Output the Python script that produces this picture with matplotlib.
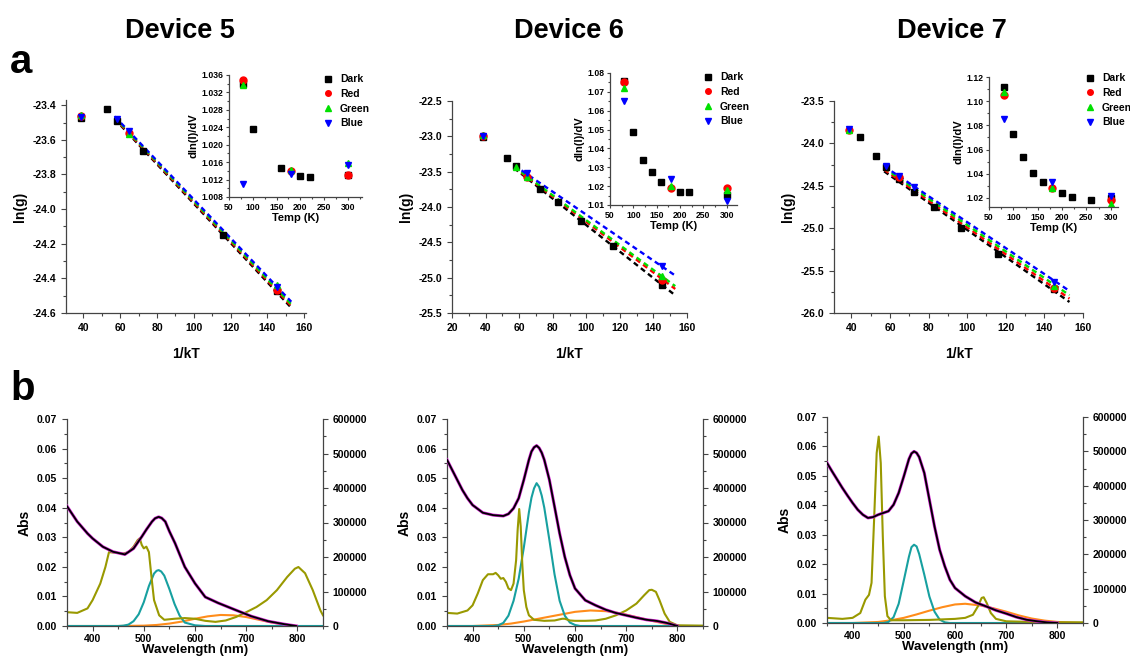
import matplotlib
matplotlib.use('Agg')
import matplotlib.pyplot as plt
from matplotlib.ticker import MultipleLocator, FixedLocator

plt.rcParams['font.family'] = ['Liberation Sans', 'DejaVu Sans']
plt.rcParams['font.weight'] = 'bold'
plt.rcParams['axes.labelweight'] = 'bold'
plt.rcParams['axes.unicode_minus'] = False

W, H = 1130, 658

# ---------------- a: ln(g) vs 1/kT ----------------
titles = ['Device 5', 'Device 6', 'Device 7']

# device 5
d5_pts = {
    'Dark': ([38.7, 52.7, 58.0, 72.5, 116.0, 145.0], [-23.475, -23.42, -23.49, -23.665, -24.15, -24.475]),
    'Red': ([38.7, 64.5, 145.0], [-23.465, -23.56, -24.465]),
    'Green': ([38.7, 64.5, 145.0], [-23.455, -23.565, -24.44]),
    'Blue': ([38.7, 58.0, 64.5, 145.0], [-23.47, -23.48, -23.55, -24.45]),
}
d5_fit = {'Dark': [-23.48, -24.57], 'Red': [-23.475, -24.56], 'Green': [-23.47, -24.55], 'Blue': [-23.465, -24.535]}
# device 6
d6_pts = {
    'Dark': ([38.7, 52.7, 58.0, 72.5, 82.9, 96.7, 116.0, 145.0], [-23.01, -23.31, -23.42, -23.74, -23.93, -24.2, -24.55, -25.1]),
    'Red': ([38.7, 64.5, 145.0], [-23.0, -23.58, -25.03]),
    'Green': ([38.7, 58.0, 64.5, 145.0], [-22.98, -23.44, -23.57, -24.97]),
    'Blue': ([38.7, 64.5, 145.0], [-23.0, -23.52, -24.83]),
}
d6_fit = {'Dark': [-23.45, -25.25], 'Red': [-23.44, -25.16], 'Green': [-23.43, -25.12], 'Blue': [-23.41, -24.97]}
# device 7
d7_pts = {
    'Dark': ([44.6, 52.7, 58.0, 64.5, 72.5, 82.9, 96.7, 116.0, 145.0], [-23.93, -24.15, -24.28, -24.42, -24.57, -24.75, -25.0, -25.3, -25.72]),
    'Red': ([38.7, 64.5, 145.0], [-23.84, -24.4, -25.70]),
    'Green': ([38.7, 145.0], [-23.84, -25.68]),
    'Blue': ([38.7, 58.0, 64.5, 72.5, 145.0], [-23.83, -24.27, -24.38, -24.52, -25.63]),
}
d7_fit = {'Dark': [-24.33, -25.87], 'Red': [-24.31, -25.83], 'Green': [-24.29, -25.79], 'Blue': [-24.27, -25.74]}
fit_x = [57, 153]

# insets: dln(I)/dV vs Temp
i5 = {
    'Dark': ([80, 100, 160, 200, 220, 300], [1.034, 1.0235, 1.0147, 1.0129, 1.0127, 1.013]),
    'Red': ([80, 180, 300], [1.0348, 1.014, 1.0131]),
    'Green': ([80, 180, 300], [1.0338, 1.0143, 1.0158]),
    'Blue': ([80, 180, 300], [1.011, 1.0132, 1.0154]),
}
i6 = {
    'Dark': ([80, 100, 120, 140, 160, 200, 220, 300], [1.076, 1.0485, 1.034, 1.0275, 1.022, 1.017, 1.017, 1.0155]),
    'Red': ([80, 180, 300], [1.075, 1.019, 1.019]),
    'Green': ([80, 180, 300], [1.072, 1.020, 1.018]),
    'Blue': ([80, 180, 300], [1.065, 1.024, 1.012]),
}
i7 = {
    'Dark': ([80, 100, 120, 140, 160, 200, 220, 260, 300], [1.112, 1.073, 1.054, 1.041, 1.033, 1.024, 1.021, 1.018, 1.02]),
    'Red': ([80, 180, 300], [1.105, 1.028, 1.018]),
    'Green': ([80, 180, 300], [1.108, 1.028, 1.015]),
    'Blue': ([80, 180, 300], [1.085, 1.033, 1.022]),
}

series_style = {
    'Dark': dict(marker='s', color='black'),
    'Red': dict(marker='o', color='#ff0000'),
    'Green': dict(marker='^', color='#00e000'),
    'Blue': dict(marker='v', color='#0000ff'),
}

# ---------------- b: spectra ----------------
# black = Abs (left axis), others on right axis (counts)
b5_abs_x = [350, 370, 390, 400, 420, 440, 463, 480, 496, 505, 516, 522, 529, 535, 542, 550, 561, 580, 600, 620, 645, 678, 710, 743, 775, 798]
b5_abs_y = [0.0405, 0.0353, 0.0313, 0.0296, 0.0268, 0.0251, 0.0242, 0.0262, 0.0302, 0.0326, 0.0353, 0.0364, 0.0369, 0.0365, 0.0353, 0.032, 0.028, 0.02, 0.0144, 0.0098, 0.0078, 0.0055, 0.0033, 0.0016, 0.0006, 0.0]
b5_olive_x = [350, 370, 390, 400, 415, 425, 432, 440, 460, 470, 480, 488, 492, 496, 500, 505, 510, 515, 520, 530, 540, 560, 580, 600, 620, 640, 660, 680, 700, 720, 740, 760, 780, 795, 802, 815, 830, 845, 850]
b5_olive_y = [40e3, 38e3, 51e3, 75e3, 123e3, 171e3, 214e3, 213e3, 210e3, 214e3, 230e3, 249e3, 254e3, 235e3, 225e3, 230e3, 214e3, 142e3, 75e3, 31e3, 18e3, 21e3, 23e3, 21e3, 15e3, 12e3, 16e3, 26e3, 40e3, 55e3, 75e3, 104e3, 142e3, 166e3, 171e3, 153e3, 104e3, 45e3, 31e3]
b5_teal_x = [350, 450, 460, 470, 480, 490, 500, 510, 520, 525, 529, 534, 540, 550, 560, 570, 580, 600, 620, 850]
b5_teal_y = [0, 0, 1e3, 4e3, 14e3, 34e3, 69e3, 116e3, 152e3, 160e3, 162e3, 158e3, 146e3, 107e3, 64e3, 30e3, 10e3, 2e3, 0, 0]
b5_orange_x = [350, 450, 500, 525, 550, 575, 600, 625, 650, 675, 700, 725, 750, 775, 800]
b5_orange_y = [0, 0, 1e3, 3e3, 7e3, 13e3, 21e3, 28e3, 32e3, 31e3, 26e3, 18e3, 10e3, 4e3, 0]

b6_abs_x = [350, 360, 370, 380, 390, 400, 420, 440, 460, 470, 480, 490, 500, 510, 515, 520, 525, 530, 535, 540, 550, 560, 570, 580, 590, 600, 620, 640, 660, 680, 700, 720, 740, 760, 780, 800]
b6_abs_y = [0.0562, 0.0528, 0.0494, 0.046, 0.0432, 0.0409, 0.0383, 0.0375, 0.0372, 0.0379, 0.0398, 0.0432, 0.0494, 0.0562, 0.0590, 0.0604, 0.061, 0.0602, 0.0586, 0.0562, 0.0494, 0.0404, 0.0313, 0.0234, 0.0172, 0.0127, 0.0087, 0.007, 0.0055, 0.0044, 0.0036, 0.0028, 0.0021, 0.0017, 0.001, 0.0]
b6_olive_x = [350, 370, 390, 400, 410, 420, 430, 440, 445, 450, 455, 460, 465, 470, 475, 480, 485, 488, 491, 494, 497, 500, 505, 510, 520, 540, 560, 575, 580, 590, 600, 620, 640, 660, 680, 700, 720, 735, 745, 750, 758, 765, 775, 785, 800, 850]
b6_olive_y = [38e3, 36e3, 45e3, 60e3, 94e3, 133e3, 150e3, 150e3, 154e3, 147e3, 137e3, 139e3, 128e3, 109e3, 104e3, 123e3, 191e3, 279e3, 339e3, 288e3, 181e3, 104e3, 55e3, 31e3, 18e3, 15e3, 16e3, 21e3, 21e3, 16e3, 15e3, 15e3, 16e3, 21e3, 31e3, 45e3, 65e3, 89e3, 104e3, 105e3, 99e3, 75e3, 36e3, 12e3, 2e3, 1e3]
b6_teal_x = [350, 440, 450, 460, 470, 480, 490, 500, 510, 515, 520, 525, 530, 535, 540, 550, 560, 570, 580, 590, 600, 610, 850]
b6_teal_y = [0, 0, 2e3, 9e3, 30e3, 73e3, 137e3, 227e3, 330e3, 372e3, 399e3, 414e3, 403e3, 378e3, 343e3, 249e3, 150e3, 73e3, 30e3, 10e3, 3e3, 0, 0]
b6_orange_x = [350, 400, 450, 475, 500, 525, 550, 575, 600, 630, 660, 680, 700, 725, 750, 775, 800]
b6_orange_y = [0, 0, 3e3, 7e3, 13e3, 20e3, 27e3, 34e3, 41e3, 45e3, 43e3, 39e3, 33e3, 24e3, 15e3, 7e3, 2e3]

b7_abs_x = [350, 360, 370, 380, 390, 400, 410, 420, 430, 440, 450, 460, 470, 480, 490, 500, 510, 515, 520, 525, 530, 540, 550, 560, 570, 580, 590, 600, 620, 640, 660, 680, 700, 720, 740, 760, 780, 800]
b7_abs_y = [0.0544, 0.0515, 0.0487, 0.0459, 0.0433, 0.0408, 0.0385, 0.0368, 0.0357, 0.036, 0.0368, 0.0374, 0.038, 0.0402, 0.0442, 0.0498, 0.0557, 0.0576, 0.0583, 0.0578, 0.0564, 0.051, 0.0419, 0.0328, 0.0249, 0.0193, 0.0147, 0.0119, 0.0091, 0.007, 0.0057, 0.0043, 0.0032, 0.002, 0.0011, 0.0006, 0.0002, 0.0]
b7_olive_x = [350, 380, 400, 415, 425, 432, 437, 442, 447, 451, 455, 459, 463, 468, 475, 500, 550, 600, 620, 635, 645, 652, 656, 662, 670, 680, 700, 750, 800, 850]
b7_olive_y = [15e3, 12e3, 15e3, 29e3, 68e3, 82e3, 117e3, 301e3, 495e3, 543e3, 466e3, 252e3, 78e3, 20e3, 8e3, 8e3, 9e3, 12e3, 15e3, 24e3, 49e3, 73e3, 75e3, 58e3, 29e3, 12e3, 5e3, 3e3, 2e3, 2e3]
b7_teal_x = [350, 460, 470, 480, 490, 500, 510, 515, 520, 525, 530, 540, 550, 560, 570, 580, 590, 850]
b7_teal_y = [0, 0, 3e3, 17e3, 56e3, 124e3, 193e3, 221e3, 228e3, 223e3, 201e3, 141e3, 77e3, 33e3, 10e3, 2e3, 0, 0]
b7_orange_x = [350, 400, 450, 475, 500, 525, 550, 575, 600, 620, 650, 675, 700, 725, 750, 775, 800, 850]
b7_orange_y = [0, 0, 3e3, 8e3, 15e3, 25e3, 36e3, 46e3, 54e3, 56e3, 51e3, 43e3, 33e3, 22e3, 13e3, 7e3, 3e3, 0]

OLIVE = '#999900'
TEAL = '#17a0a0'
ORANGE = '#ff8c1a'
SPINE = '#444444'


def fig_rect(left, top, right, bottom):
    return [left / W, 1 - bottom / H, (right - left) / W, (bottom - top) / H]


def style_axes(ax, size, right=False):
    for s in ['top'] + ([] if right else ['right']):
        ax.spines[s].set_visible(False)
    for s in ax.spines.values():
        s.set_color(SPINE)
        s.set_linewidth(0.9)
    ax.tick_params(which='both', direction='out', color=SPINE, labelsize=size, width=0.8)
    ax.tick_params(which='major', length=3.5)
    ax.tick_params(which='minor', length=2)


fig = plt.figure(figsize=(W / 100, H / 100), dpi=100)

fig.text(10 / W, 1 - 73 / H, 'a', fontsize=29, weight='bold', va='baseline')
fig.text(10 / W, 1 - 400 / H, 'b', fontsize=29, weight='bold', va='baseline')
for t, cx in zip(titles, [180, 569, 952]):
    fig.text(cx / W, 1 - 38 / H, t, fontsize=19.5, weight='bold', ha='center', va='baseline')

main_cfg = [
    (d5_pts, d5_fit, (66, 100, 306, 313), (30.5, 161), (-24.6, -23.37), 0.2, 0.1, [40, 60, 80, 100, 120, 140, 160]),
    (d6_pts, d6_fit, (452, 101, 687, 313), (20, 160), (-25.5, -22.5), 0.5, 0.25, [20, 40, 60, 80, 100, 120, 140, 160]),
    (d7_pts, d7_fit, (834, 101, 1083, 313), (31, 160), (-26.0, -23.5), 0.5, 0.25, [40, 60, 80, 100, 120, 140, 160]),
]
inset_cfg = [
    (i5, (229, 75, 362, 197), (50, 330), (1.008, 1.036), 0.004, (318, 69)),
    (i6, (610, 73, 737, 205), (50, 322), (1.01, 1.08), 0.01, (698, 67)),
    (i7, (989, 77, 1118, 207), (50, 315), (1.0125, 1.12), 0.02, (1080, 68)),
]

for (pts, fit, rect, xl, yl, ymaj, ymin, xt), (ins, irect, ixl, iyl, iymaj, legpos) in zip(main_cfg, inset_cfg):
    ax = fig.add_axes(fig_rect(*rect))
    style_axes(ax, 7.5)
    for name in ['Dark', 'Red', 'Green', 'Blue']:
        st = series_style[name]
        ax.plot(fit_x, fit[name], color=st['color'], lw=1.7, ls=(0, (2.2, 1.6)), zorder=2)
    for name in ['Dark', 'Red', 'Green', 'Blue']:
        st = series_style[name]
        x, y = pts[name]
        ax.plot(x, y, ls='none', marker=st['marker'], color=st['color'], ms=5, zorder=3)
    ax.set_xlim(*xl)
    ax.set_ylim(*yl)
    ax.xaxis.set_major_locator(FixedLocator(xt))
    ax.xaxis.set_minor_locator(MultipleLocator(10))
    ax.yaxis.set_major_locator(MultipleLocator(ymaj))
    ax.yaxis.set_minor_locator(MultipleLocator(ymin))
    ax.set_xlabel('1/kT', fontsize=10, labelpad=10)
    ax.set_ylabel('ln(g)', fontsize=10, labelpad=4)

    ia = fig.add_axes(fig_rect(*irect))
    ia.patch.set_alpha(0)
    style_axes(ia, 6.2)
    ia.tick_params(which='major', length=2.5, pad=1.5)
    ia.tick_params(which='minor', length=1.5)
    handles = []
    for name in ['Dark', 'Red', 'Green', 'Blue']:
        st = series_style[name]
        x, y = ins[name]
        h, = ia.plot(x, y, ls='none', marker=st['marker'], color=st['color'], ms=5, label=name)
        handles.append(h)
    ia.set_xlim(*ixl)
    ia.set_ylim(*iyl)
    ia.xaxis.set_major_locator(MultipleLocator(50))
    ia.xaxis.set_minor_locator(MultipleLocator(25))
    ia.yaxis.set_major_locator(MultipleLocator(iymaj))
    ia.yaxis.set_minor_locator(MultipleLocator(iymaj / 2))
    if iymaj == 0.004:
        ia.yaxis.set_major_formatter(plt.FormatStrFormatter('%.3f'))
    else:
        ia.yaxis.set_major_formatter(plt.FormatStrFormatter('%.2f'))
    ia.set_xlabel('Temp (K)', fontsize=8, labelpad=1)
    ia.set_ylabel('dln(I)/dV', fontsize=8, labelpad=2)
    fig.legend(handles=handles, loc='upper left', bbox_to_anchor=(legpos[0] / W, 1 - legpos[1] / H),
               bbox_transform=fig.transFigure, frameon=False, fontsize=7.5, handlelength=1.0,
               handletextpad=0.6, labelspacing=0.45, borderpad=0, markerscale=0.8)

spec_cfg = [
    ((67, 419, 323, 626), b5_abs_x, b5_abs_y, b5_olive_x, b5_olive_y, b5_teal_x, b5_teal_y, b5_orange_x, b5_orange_y),
    ((447, 419, 703, 626), b6_abs_x, b6_abs_y, b6_olive_x, b6_olive_y, b6_teal_x, b6_teal_y, b6_orange_x, b6_orange_y),
    ((827, 417, 1083, 623), b7_abs_x, b7_abs_y, b7_olive_x, b7_olive_y, b7_teal_x, b7_teal_y, b7_orange_x, b7_orange_y),
]

for rect, ax_, ay_, ox, oy, tx, ty, rx, ry in spec_cfg:
    ax = fig.add_axes(fig_rect(*rect))
    style_axes(ax, 7.5)
    ax.spines['right'].set_visible(False)
    ax.tick_params(axis='x', pad=2)
    ax.plot(ax_, ay_, color='#d020d0', lw=2.2, zorder=3)
    ax.plot(ax_, ay_, color='black', lw=1.3, zorder=4)
    ax.set_xlim(350, 850)
    ax.set_ylim(0, 0.07)
    ax.xaxis.set_major_locator(MultipleLocator(100))
    ax.xaxis.set_minor_locator(MultipleLocator(50))
    ax.yaxis.set_major_locator(MultipleLocator(0.01))
    ax.yaxis.set_minor_locator(MultipleLocator(0.005))
    ax.yaxis.set_major_formatter(plt.FormatStrFormatter('%.2f'))
    ax.set_xlabel('Wavelength (nm)', fontsize=9.5, labelpad=0)
    ax.set_ylabel('Abs', fontsize=10, labelpad=4)

    ax2 = ax.twinx()
    style_axes(ax2, 7.5, right=True)
    ax2.spines['left'].set_visible(False)
    ax2.spines['bottom'].set_visible(False)
    ax2.plot(rx, ry, color=ORANGE, lw=1.5)
    ax2.plot(tx, ty, color=TEAL, lw=1.5)
    ax2.plot(ox, oy, color=OLIVE, lw=1.5)
    ax2.set_ylim(0, 600000)
    ax2.yaxis.set_major_locator(MultipleLocator(100000))
    ax2.yaxis.set_minor_locator(MultipleLocator(50000))
    ax2.yaxis.set_major_formatter(plt.FormatStrFormatter('%d'))
    ax.set_zorder(ax2.get_zorder() + 1)
    ax.patch.set_visible(False)

fig.savefig('out.png', dpi=100)
